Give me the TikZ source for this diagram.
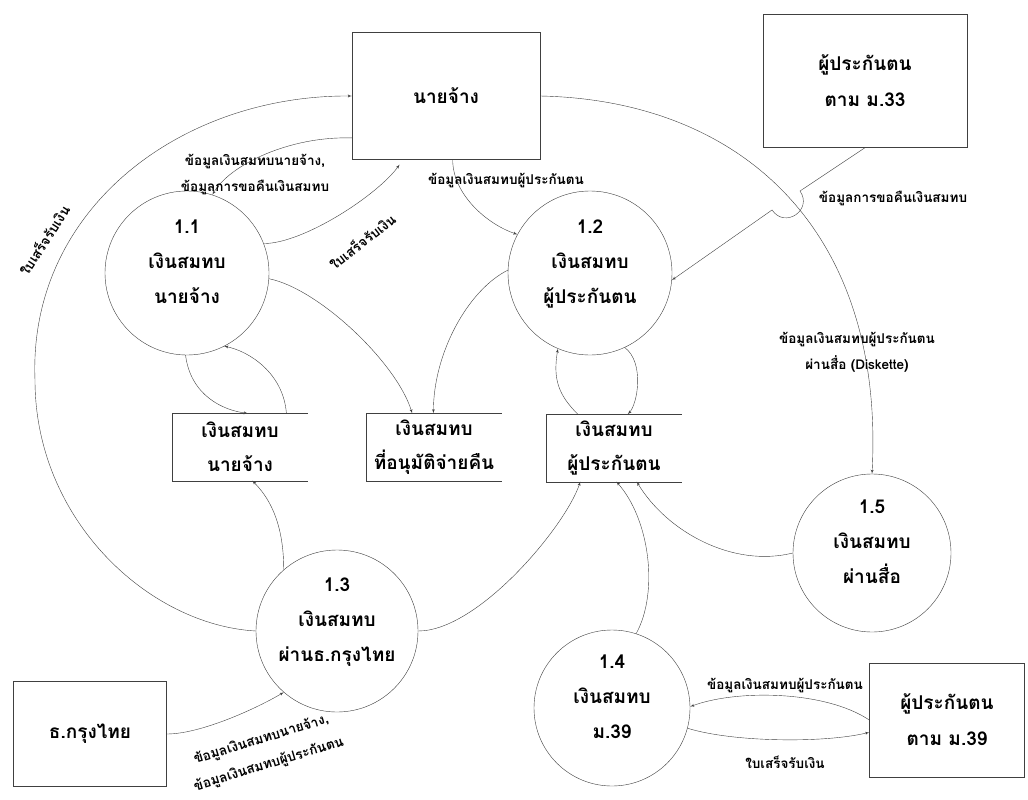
\documentclass[tikz,border=0pt]{standalone}
\usepackage{fontspec}
\newfontfamily\thaifont[Script=Thai]{Loma}
\usepackage{tikz}
\usetikzlibrary{arrows}

\begin{document}
\begin{tikzpicture}[x=1pt, y=-1pt,
	proc/.style={draw=black!75, circle, inner sep=0pt, align=center, font=\thaifont\bfseries\fontsize{19}{35}\selectfont, execute at end node=\rule[-22pt]{0pt}{0pt}},
	ext/.style={draw=black!75, rectangle, inner sep=0pt, align=center, font=\thaifont\bfseries\fontsize{19}{36}\selectfont},
	store/.style={rectangle, inner sep=0pt, minimum width=135pt, minimum height=67pt, align=center, font=\thaifont\bfseries\fontsize{19}{34}\selectfont},
	lbl/.style={inner sep=1pt, align=center, font=\thaifont\bfseries\fontsize{13.5}{26}\selectfont},
	flow/.style={draw=black!75, thin, -latex'}]

\useasboundingbox [fill=white] (0,0) rectangle (1028,800);

% external entities
\node [ext, minimum width=188pt, minimum height=127pt] (e1) at (446,96) {นายจ้าง};
\node [ext, minimum width=204pt, minimum height=133pt] (e2) at (865,81) {ผู้ประกันตน\\ตาม ม.33};
\node [ext, minimum width=153pt, minimum height=105pt] (e3) at (90,734) {ธ.กรุงไทย};
\node [ext, minimum width=155pt, minimum height=114pt] (e4) at (947,720) {ผู้ประกันตน\\ตาม ม.39};

% processes
\node [proc, minimum size=164pt] (11) at (187,273) {1.1\\เงินสมทบ\\นายจ้าง};
\node [proc, minimum size=164pt] (12) at (590,273) {1.2\\เงินสมทบ\\ผู้ประกันตน};
\node [proc, minimum size=162pt] (13) at (337,631) {1.3\\เงินสมทบ\\ผ่านธ.กรุงไทย};
\node [proc, minimum size=156pt] (14) at (612,708) {1.4\\เงินสมทบ\\ม.39};
\node [proc, minimum size=158pt] (15) at (872,553) {1.5\\เงินสมทบ\\ผ่านสื่อ};

% data stores
\node [store] (d1) at (240,447) {เงินสมทบ\\นายจ้าง};
\node [store] (d2) at (434,447) {เงินสมทบ\\ที่อนุมัติจ่ายคืน};
\node [store] (d3) at (614,448) {เงินสมทบ\\ผู้ประกันตน};
\foreach \s in {d1, d2, d3}
	\draw [black!75] (\s.north east) -- (\s.north west) -- (\s.south west) -- (\s.south east);

% flows
\path [flow] (13.west) .. controls +(-107,-6) and +(0,140) .. (35,380) .. controls +(-7,-170) and +(-172,-1) .. (e1.west);
\path [flow] (e1.204) .. controls +(-62,-2) and +(17,-30) .. (11.72);
\path [flow, shorten >=6pt] (11.21) .. controls +(40,0) and +(-25,35) .. (e1.-124);
\path [flow] (e1.-84) .. controls +(0,35) and +(-30,-10) .. (12.152);
\path [flow] (e1.east) .. controls +(200,4) and +(13,-245) .. (15.north);
\path [flow] (e2.south) -- (800,191) .. controls (813,210) and (785,229) .. (772,210) -- (12.-5);

\path [flow] (11.-4) .. controls +(50,10) and +(-15,-50) .. (d2.123);
\path [flow] (12.178) .. controls +(-40,20) and +(0,-60) .. (d2.91);
\path [flow] (11.-91) .. controls +(5,40) and +(-25,-3) .. (d1.77);
\path [flow] (d1.36) .. controls +(-3,-40) and +(25,5) .. (11.-63);
\path [flow] (13.131) .. controls +(0,-50) and +(15,15) .. (d1.-70);
\path [flow] (d3.137) .. controls +(-20,-20) and +(-5,30) .. (12.-113);
\path [flow] (12.-65) .. controls +(20,15) and +(10,-10) .. (d3.68);
\path [flow] (13.east) .. controls +(60,0) and +(-15,45) .. (d3.-135);
\path [flow] (14.72) .. controls +(23,-42) and +(33,37) .. (d3.-86);
\path [flow] (15.west) .. controls +(-60,15) and +(30,50) .. (d3.-56);

\path [flow] (e4.west) .. controls +(-45,-30) and +(45,-17) .. (14.1);
\path [flow] (14.-15) .. controls +(45,14) and +(-45,11) .. (e4.189);
\path [flow] (e3.east) .. controls +(35,0) and +(-25,15) .. (13.-131);

% flow labels
\node [lbl, rotate=57] (t1) at (44,240) {ใบเสร็จรับเงิน};
\node [lbl] (t2) at (255,175) {ข้อมูลเงินสมทบนายจ้าง,\\ข้อมูลการขอคืนเงินสมทบ};
\node [lbl, rotate=38] (t3) at (362,241) {ใบเสร็จรับเงิน};
\node [lbl] (t4) at (506,181) {ข้อมูลเงินสมทบผู้ประกันตน};
\node [lbl] (t5) at (893,198) {ข้อมูลการขอคืนเงินสมทบ};
\node [lbl] (t6) at (857,352) {ข้อมูลเงินสมทบผู้ประกันตน\\ผ่านสื่อ (Diskette)};
\node [lbl] (t7) at (785,686) {ข้อมูลเงินสมทบผู้ประกันตน};
\node [lbl] (t8) at (785,762) {ใบเสร็จรับเงิน};
\node [lbl, rotate=17] (t9) at (265,752) {ข้อมูลเงินสมทบนายจ้าง,\\ข้อมูลเงินสมทบผู้ประกันตน};

\end{tikzpicture}
\end{document}
